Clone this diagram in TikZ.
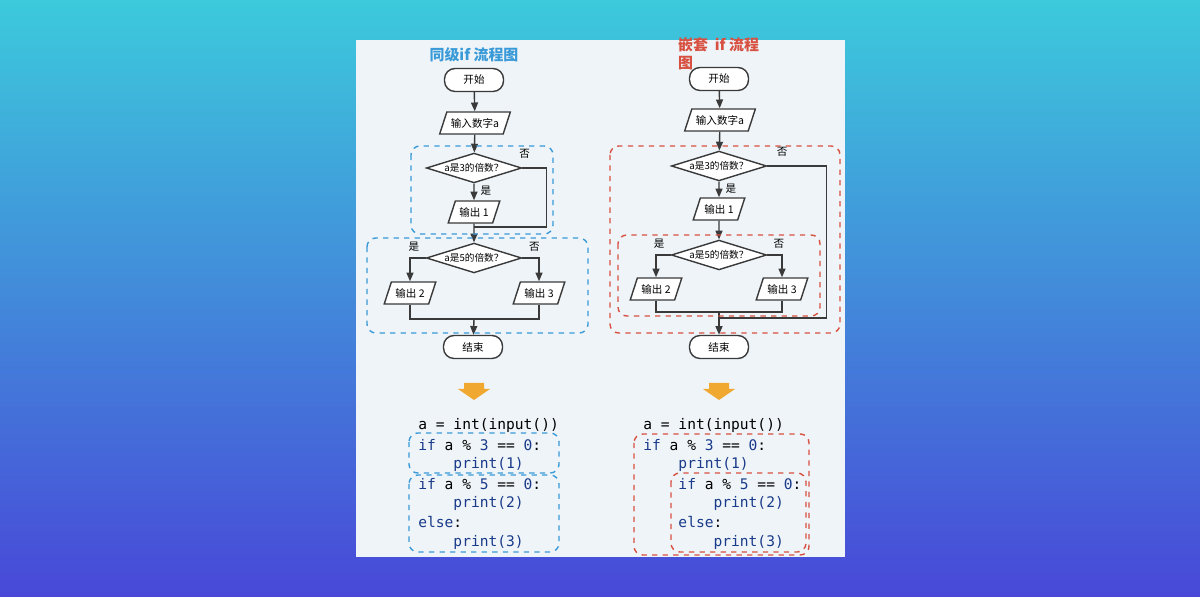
\documentclass[tikz,border=0pt]{standalone}
\usepackage{fontspec}
\setmainfont{Noto Sans CJK SC}
\newfontfamily\codefont{DejaVu Sans Mono}
\usetikzlibrary{shapes.geometric,arrows.meta}
\definecolor{flowline}{HTML}{3A3A3A}
\definecolor{boxblue}{HTML}{3A9AD8}
\definecolor{boxred}{HTML}{D85040}
\definecolor{kw}{HTML}{1A3A8A}
\definecolor{panel}{HTML}{EEF4F8}
\definecolor{bgtop}{HTML}{3CCADC}
\definecolor{bgbot}{HTML}{4848D8}
\definecolor{hint}{HTML}{F0A830}
\tikzset{
  term/.style={draw=flowline,thick,rounded corners=6pt,fill=white,minimum width=1.18cm,minimum height=0.46cm,font=\fontsize{6}{7}\selectfont},
  io/.style={draw=flowline,thick,trapezium,trapezium left angle=72,trapezium right angle=108,fill=white,minimum width=1.0cm,minimum height=0.44cm,inner xsep=2pt,font=\fontsize{6}{7}\selectfont},
  test/.style={draw=flowline,thick,diamond,aspect=3.2,fill=white,inner sep=0.5pt,font=\fontsize{5.5}{6}\selectfont},
  flow/.style={draw=flowline,thick,-{Triangle[length=5pt,width=4pt]}},
  plain/.style={draw=flowline,thick},
  tag/.style={font=\fontsize{6}{7}\selectfont},
  groupb/.style={draw=boxblue,thick,dashed,rounded corners=5pt},
  groupr/.style={draw=boxred,thick,dashed,rounded corners=5pt},
  code/.style={anchor=west,inner sep=0pt,font=\codefont\fontsize{8.3}{10}\selectfont},
}
\newcommand{\kw}[1]{\textcolor{kw}{#1}}
\begin{document}
\begin{tikzpicture}[x=0.02cm,y=-0.02cm]
  % background and panel
  \shade[top color=bgtop,bottom color=bgbot] (0,0) rectangle (1200,597);
  \useasboundingbox (0,0) rectangle (1200,597);
  \fill[panel] (356,40) rectangle (845,557);

  % titles
  \node[text=boxblue,font=\bfseries\fontsize{8.5}{10}\selectfont] (titleL) at (474,55) {同级if 流程图};
  \node[text=boxred,font=\bfseries\fontsize{8.5}{10}\selectfont,anchor=west,align=left] (titleR) at (672,54) {嵌套\ \ if 流程\\图};

  % left chart: sibling if
  \node[term] (startL) at (474,80) {开始};
  \node[io] (inL) at (475,123) {输入数字a};
  \node[test] (dL1) at (474,168) {a是3的倍数？};
  \node[io] (outL1) at (474,212) {输出 1};
  \node[test] (dL2) at (474,258) {a是5的倍数？};
  \node[io] (outL2) at (410,293) {输出 2};
  \node[io] (outL3) at (539,293) {输出 3};
  \node[term] (endL) at (473,347) {结束};
  \coordinate (mL1) at (474,227);
  \coordinate (mL2) at (474,319);

  \draw[flow] (startL) -- (inL);
  \draw[flow] (inL) -- (dL1);
  \draw[flow] (dL1) -- (outL1) node[tag,pos=0.45,right] {是};
  \draw[plain] (dL1.east) -- ++(24,0) node[tag,pos=0.1,above,yshift=2pt] {否} |- (mL1);
  \draw[flow] (outL1) -- (dL2);
  \draw[flow] (dL2.west) -| (outL2.north) node[tag,pos=0.15,above,xshift=-4pt] {是};
  \draw[flow] (dL2.east) -| (outL3.north) node[tag,pos=0.15,above,xshift=4pt] {否};
  \draw[plain] (outL2.south) |- (mL2) -| (outL3.south);
  \draw[flow] (mL2) -- (endL);

  \draw[groupb] (411,146) rectangle (553,234);
  \draw[groupb] (367,238) rectangle (588,333);

  % right chart: nested if
  \node[term] (startR) at (719,79) {开始};
  \node[io] (inR) at (720,120) {输入数字a};
  \node[test] (dR1) at (719,166) {a是3的倍数？};
  \node[io] (outR1) at (719,209) {输出 1};
  \node[test] (dR2) at (719,255) {a是5的倍数？};
  \node[io] (outR2) at (656,289) {输出 2};
  \node[io] (outR3) at (782,289) {输出 3};
  \node[term] (endR) at (719,347) {结束};
  \coordinate (mR1) at (719,312);
  \coordinate (mR2) at (719,318);

  \draw[flow] (startR) -- (inR);
  \draw[flow] (inR) -- (dR1);
  \draw[flow] (dR1) -- (outR1) node[tag,pos=0.45,right] {是};
  \draw[flow] (outR1) -- (dR2);
  \draw[flow] (dR2.west) -| (outR2.north) node[tag,pos=0.15,above,xshift=-4pt] {是};
  \draw[flow] (dR2.east) -| (outR3.north) node[tag,pos=0.15,above,xshift=4pt] {否};
  \draw[plain] (outR2.south) |- (mR1) -| (outR3.south);
  \draw[plain] (dR1.east) -- ++(59,0) node[tag,pos=0.25,above,yshift=2pt] {否} |- (mR2);
  \draw[flow] (mR1) -- (endR);

  \draw[groupr] (610,146) rectangle (840,333);
  \draw[groupr] (618,235) rectangle (820,316);

  % hint arrows
  \fill[hint] (464,383) -- (484,383) -- (484,389) -- (490,389) -- (474,400) -- (458,389) -- (464,389) -- cycle;
  \fill[hint] (709,383) -- (729,383) -- (729,389) -- (735,389) -- (719,400) -- (703,389) -- (709,389) -- cycle;

  % left code
  \node[code] (cL1) at (418,425) {a = int(input())};
  \node[code] (cL2) at (418,445) {\kw{if} a \% \kw{3} == \kw{0}:};
  \node[code] (cL3) at (418,464) {\phantom{xxxx}\kw{print(1)}};
  \node[code] (cL4) at (418,484) {\kw{if} a \% \kw{5} == \kw{0}:};
  \node[code] (cL5) at (418,503) {\phantom{xxxx}\kw{print(2)}};
  \node[code] (cL6) at (418,522) {\kw{else}:};
  \node[code] (cL7) at (418,542) {\phantom{xxxx}\kw{print(3)}};
  \draw[groupb] (409,433) rectangle (559,473);
  \draw[groupb] (409,475) rectangle (559,552);

  % right code
  \node[code] (cR1) at (643,425) {a = int(input())};
  \node[code] (cR2) at (643,445) {\kw{if} a \% \kw{3} == \kw{0}:};
  \node[code] (cR3) at (643,464) {\phantom{xxxx}\kw{print(1)}};
  \node[code] (cR4) at (643,484) {\phantom{xxxx}\kw{if} a \% \kw{5} == \kw{0}:};
  \node[code] (cR5) at (643,503) {\phantom{xxxxxxxx}\kw{print(2)}};
  \node[code] (cR6) at (643,522) {\phantom{xxxx}\kw{else}:};
  \node[code] (cR7) at (643,542) {\phantom{xxxxxxxx}\kw{print(3)}};
  \draw[groupr] (634,434) rectangle (809,555);
  \draw[groupr] (671,473) rectangle (806,552);
\end{tikzpicture}
\end{document}
